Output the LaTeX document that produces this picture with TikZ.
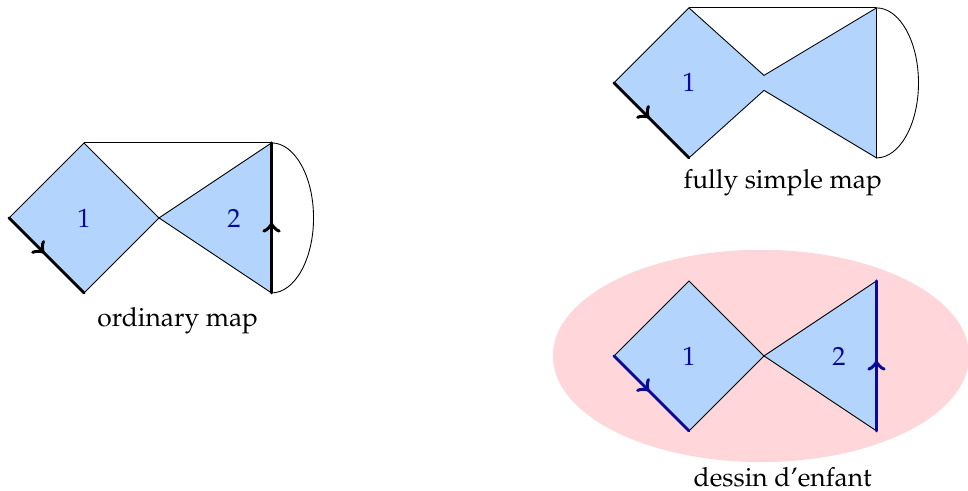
\documentclass[tikz,border=0pt]{standalone}
\usepackage[T1]{fontenc}
\usepackage{mathpazo}
\usepackage{tikz}
\usetikzlibrary{decorations.markings}

\definecolor{faceblue}{RGB}{179,212,252}
\definecolor{dessinpink}{RGB}{255,214,217}
\definecolor{labelblue}{RGB}{10,10,150}

\tikzset{
    face/.style={fill=faceblue, draw=black, line width=0.4pt},
    bdry/.style={line width=1.3pt, line cap=round},
    midarrow/.style={postaction={decorate, decoration={markings,
        mark=at position 0.47 with {\arrow[scale=1.3]{>}}}}},
    facelabel/.style={text=labelblue, font=\large},
    caption/.style={font=\large}
}

\begin{document}
\begin{tikzpicture}[x=0.6cm, y=0.6cm]
    \useasboundingbox (0,0) rectangle (25.81,13.09);

    % Ordinary map
    \begin{scope}[shift={(0.24,7.28)}]
        \draw (2,2) -- (7,2);
        \draw (7,2) arc[start angle=90, end angle=-90, x radius=1.12, y radius=2];
        \draw[face] (0,0) -- (2,2) -- (4,0) -- (2,-2) -- cycle;
        \draw[face] (4,0) -- (7,2) -- (7,-2) -- cycle;
        \draw[bdry, midarrow] (0,0) -- (2,-2);
        \draw[bdry, midarrow] (7,-2) -- (7,2);
        \node[facelabel] (ord1) at (2,0) {1};
        \node[facelabel] (ord2) at (6,0) {2};
        \node[caption] (ordcap) at (4.5,-2.75) {ordinary map};
    \end{scope}

    % Fully simple map
    \begin{scope}[shift={(16.37,10.88)}]
        \draw (2,2) -- (7,2);
        \draw (7,2) arc[start angle=90, end angle=-90, x radius=1.12, y radius=2];
        \draw[face] (0,0) -- (2,2) -- (4,0.2) -- (7,2) -- (7,-2) -- (4,-0.2) -- (2,-2) -- cycle;
        \draw[bdry, midarrow] (0,0) -- (2,-2);
        \node[facelabel] (fs1) at (2,0) {1};
        \node[caption] (fscap) at (4.5,-2.67) {fully simple map};
    \end{scope}

    % Dessin d'enfant
    \begin{scope}[shift={(16.37,3.6)}]
        \fill[dessinpink] (3.92,0) ellipse[x radius=5.55, y radius=2.83];
        \draw[face] (0,0) -- (2,2) -- (4,0) -- (2,-2) -- cycle;
        \draw[face] (4,0) -- (7,2) -- (7,-2) -- cycle;
        \draw[bdry, labelblue, midarrow] (0,0) -- (2,-2);
        \draw[bdry, labelblue, midarrow] (7,-2) -- (7,2);
        \node[facelabel] (des1) at (2,0) {1};
        \node[facelabel] (des2) at (6,0) {2};
        \node[caption] (descap) at (4.5,-3.23) {dessin d'enfant};
    \end{scope}
\end{tikzpicture}
\end{document}
